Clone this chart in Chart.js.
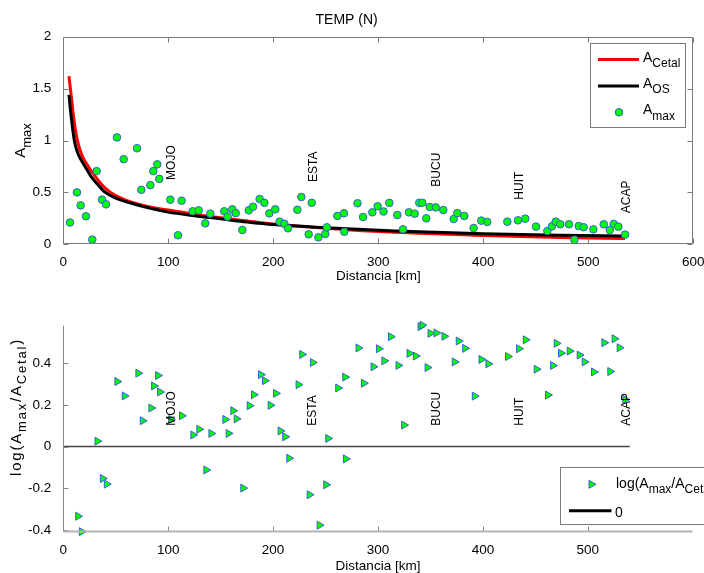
<!DOCTYPE html>
<html>
<head>
<meta charset="utf-8">
<script src="https://cdn.jsdelivr.net/npm/chart.js@4.4.1/dist/chart.umd.min.js"></script>
<style>
  body { margin: 0; background: #fff; width: 704px; height: 573px; overflow: hidden; position: relative; }
  canvas { position: absolute; left: 0; }
  #arriba { top: 0; }
  #abajo { top: 290px; }
</style>
</head>
<body>
<canvas id="arriba" width="704" height="290"></canvas>
<canvas id="abajo" width="704" height="283"></canvas>
<script>
const FONT = "'Liberation Sans', Arial, Helvetica, sans-serif";

// estaciones
const stations = ["MOJO", "ESTA", "BUCU", "HUIT", "ACAP"];
const stationKm = [103, 238, 356, 435, 537];
const stationAmax = [0.62, 0.6, 0.555, 0.43, 0.3];
const stationLog = [0.1, 0.1, 0.1, 0.1, 0.1];

// ticks
const xTicksTop = [0, 100, 200, 300, 400, 500, 600];
const yTicksTop = [0, 0.5, 1, 1.5, 2];
const xTicksBot = [0, 100, 200, 300, 400, 500];
const yTicksBot = [-0.4, -0.2, 0, 0.2, 0.4];

// curvas
const distCetal = [5.4, 6.5, 8, 9.5, 11.1, 13, 15.5, 19, 23.8, 30, 37, 45, 55, 65, 80, 100, 125, 150, 175, 200, 250, 316, 400, 473, 535];
const aCetal = [1.62, 1.52, 1.39, 1.25, 1.13, 1.02, 0.92, 0.83, 0.75, 0.66, 0.57, 0.5, 0.445, 0.405, 0.365, 0.33, 0.29, 0.255, 0.225, 0.195, 0.155, 0.115, 0.085, 0.065, 0.055];
const distOS = [5.4, 6.3, 7.3, 8.8, 10.5, 13, 16.5, 20.7, 26, 32, 40, 50, 60, 80, 100, 125, 150, 175, 200, 250, 316, 400, 473, 535];
const aOS = [1.44, 1.34, 1.25, 1.12, 1.0, 0.9, 0.82, 0.75, 0.66, 0.585, 0.5, 0.445, 0.41, 0.355, 0.31, 0.275, 0.245, 0.215, 0.19, 0.16, 0.128, 0.102, 0.088, 0.08];

// A max observada
const distAmax = [6.4, 13, 16.5, 21.6, 27.6, 31.8, 36.9, 40.7, 51.1, 57.5, 70.2, 74.3, 82.9, 85.7, 89.5, 91.4, 101.9, 109.2, 112.7, 123.2,
  128.9, 135.2, 140, 153.3, 156.5, 161, 164.2, 170.5, 176.6, 180.7, 187, 191.5, 196.2, 201.9, 206, 210.5, 214, 222.9, 226.7, 233.7,
  236.6, 242.9, 249.5, 251.1, 261, 267.3, 267.6, 280.2, 285.5, 294.3, 299.4, 305, 310.5, 318.1, 323.5, 329.2, 334.7, 339, 341.9, 345.7,
  349, 354.7, 361.9, 371.8, 375.3, 381.9, 390.8, 398.1, 403.8, 422.9, 433, 440, 450.2, 461, 465.4, 469, 473.3, 481.6, 486.7, 490.9,
  495.6, 504.8, 514.7, 520.4, 524.2, 528.6, 535];
const amax = [0.21, 0.5, 0.375, 0.27, 0.045, 0.705, 0.43, 0.385, 1.03, 0.82, 0.925, 0.525, 0.57, 0.705, 0.77, 0.63, 0.43, 0.087, 0.42, 0.318,
  0.327, 0.202, 0.295, 0.318, 0.266, 0.337, 0.3, 0.138, 0.327, 0.362, 0.436, 0.4, 0.298, 0.337, 0.218, 0.198, 0.154, 0.333, 0.456, 0.096,
  0.4, 0.067, 0.099, 0.164, 0.273, 0.299, 0.121, 0.395, 0.263, 0.308, 0.367, 0.316, 0.399, 0.282, 0.144, 0.308, 0.295, 0.4, 0.4, 0.25,
  0.359, 0.356, 0.33, 0.244, 0.3, 0.273, 0.157, 0.228, 0.215, 0.218, 0.231, 0.247, 0.17, 0.128, 0.173, 0.218, 0.193, 0.193, 0.044, 0.176,
  0.164, 0.144, 0.193, 0.138, 0.196, 0.17, 0.093];

// log(Amax/ACetal)
const distLog = [14, 17.5, 32.4, 37.5, 41.3, 51.4, 58.4, 71.4, 75.6, 83.8, 86.4, 90.2, 92.1, 102.6, 113, 123.8, 129.5, 136.2, 141, 154.3,
  157.5, 161.9, 165.1, 171.4, 177.5, 181.6, 188.3, 192.1, 197.5, 202.6, 207, 211.4, 215.2, 224.1, 227.6, 234.7, 237.8, 244.2, 250.5, 252.4,
  261.9, 268.6, 269.2, 281.3, 286.4, 295.6, 300.7, 305.9, 312.1, 319.4, 324.8, 329.9, 335.9, 340.4, 342.3, 347.1, 349.9, 355.6, 363.2, 373,
  376.8, 382.9, 392.1, 398.5, 405.1, 423.8, 434.3, 440.7, 451.1, 461.9, 466.7, 470.2, 474.3, 482.6, 492.1, 496.9, 505.7, 515.6, 521.3, 525.4,
  530.2, 535.6];
const logRatio = [-0.334, -0.408, 0.026, -0.153, -0.18, 0.312, 0.243, 0.352, 0.124, 0.185, 0.291, 0.341, 0.262, 0.13, 0.148, 0.056, 0.083, -0.112, 0.063, 0.13,
  0.063, 0.172, 0.133, -0.199, 0.196, 0.249, 0.345, 0.316, 0.198, 0.255, 0.075, 0.047, -0.056, 0.297, 0.442, -0.231, 0.403, -0.377, -0.183, 0.039,
  0.281, 0.333, -0.059, 0.473, 0.304, 0.383, 0.469, 0.411, 0.527, 0.389, 0.103, 0.447, 0.434, 0.575, 0.582, 0.379, 0.543, 0.545, 0.529, 0.406,
  0.506, 0.471, 0.242, 0.418, 0.397, 0.432, 0.469, 0.512, 0.371, 0.247, 0.389, 0.495, 0.448, 0.458, 0.439, 0.406, 0.358, 0.498, 0.36, 0.517,
  0.474, 0.226];

const zeroX = [0, 540];
const zeroY = [0, 0];

Chart.defaults.font.family = FONT;
Chart.defaults.color = "#000";
Chart.defaults.animation = false;

function pares(xs, ys) {
  return xs.map((x, i) => ({ x: x, y: ys[i] }));
}

// texto con subindices: partes = [[texto, esSub], ...]
function anchoRich(ctx, partes, main, sub) {
  let w = 0;
  partes.forEach(([t, s]) => {
    ctx.font = (s ? sub : main) + "px " + FONT;
    w += ctx.measureText(t).width;
  });
  return w;
}

function drawRich(ctx, partes, x, y, main, sub, baja) {
  let cx = x;
  partes.forEach(([t, s]) => {
    ctx.font = (s ? sub : main) + "px " + FONT;
    ctx.fillText(t, cx, y + (s ? baja : 0));
    cx += ctx.measureText(t).width;
  });
}

function marco(chart, caja, colorL, colorB) {
  const { ctx, chartArea: a, scales } = chart;
  const L = Math.round(a.left) + 0.5, R = Math.round(a.right) - 0.5;
  const T = Math.round(a.top) + 0.5, B = Math.round(a.bottom) - 0.5;
  ctx.save();
  ctx.lineWidth = 1;
  ctx.strokeStyle = colorL;
  ctx.beginPath();
  if (caja) {
    ctx.rect(L, T, R - L, B - T);
  } else {
    ctx.moveTo(L, T); ctx.lineTo(L, B);
  }
  scales.y.ticks.forEach(t => {
    const py = Math.round(scales.y.getPixelForValue(t.value)) + 0.5;
    ctx.moveTo(L, py); ctx.lineTo(L + 5, py);
    if (caja) { ctx.moveTo(R, py); ctx.lineTo(R - 5, py); }
  });
  scales.x.ticks.forEach(t => {
    const px = Math.round(scales.x.getPixelForValue(t.value)) + 0.5;
    ctx.moveTo(px, B); ctx.lineTo(px, B - 5);
    if (caja) { ctx.moveTo(px, T); ctx.lineTo(px, T + 5); }
  });
  ctx.stroke();
  if (!caja) {
    ctx.strokeStyle = colorB;
    ctx.lineWidth = 2;
    ctx.beginPath();
    ctx.moveTo(L, B); ctx.lineTo(R, B);
    ctx.stroke();
  }
  ctx.restore();
}

function etiquetas(chart, ys) {
  const { ctx, scales } = chart;
  ctx.save();
  ctx.fillStyle = "#000";
  ctx.font = "12px " + FONT;
  ctx.textAlign = "left";
  ctx.textBaseline = "middle";
  stations.forEach((n, i) => {
    ctx.save();
    ctx.translate(scales.x.getPixelForValue(stationKm[i]), scales.y.getPixelForValue(ys[i]));
    ctx.rotate(-Math.PI / 2);
    ctx.fillText(n, 0, 0);
    ctx.restore();
  });
  ctx.restore();
}

function tituloY(ctx, partes, cx, cy, main, sub, baja, esp) {
  ctx.save();
  ctx.fillStyle = "#000";
  ctx.textBaseline = "alphabetic";
  ctx.letterSpacing = esp + "px";
  const w = anchoRich(ctx, partes, main, sub);
  ctx.translate(cx, cy);
  ctx.rotate(-Math.PI / 2);
  drawRich(ctx, partes, -w / 2, 0, main, sub, baja);
  ctx.restore();
}

const pluginArriba = {
  id: "arriba",
  afterDraw(chart) {
    const ctx = chart.ctx;
    marco(chart, true, "#7a7a7a");
    etiquetas(chart, stationAmax);
    tituloY(ctx, [["A", false], ["max", true]], 25, 140.5, 15, 13, 6, 0);

    // leyenda
    ctx.save();
    ctx.fillStyle = "#fff";
    ctx.strokeStyle = "#7a7a7a";
    ctx.lineWidth = 1;
    ctx.fillRect(590.5, 43.5, 95, 84);
    ctx.strokeRect(590.5, 43.5, 95, 84);
    ctx.lineWidth = 3;
    ctx.strokeStyle = "#ff0000";
    ctx.beginPath(); ctx.moveTo(598, 59.5); ctx.lineTo(639, 59.5); ctx.stroke();
    ctx.strokeStyle = "#000";
    ctx.beginPath(); ctx.moveTo(598, 86); ctx.lineTo(639, 86); ctx.stroke();
    ctx.fillStyle = "#00ff00";
    ctx.strokeStyle = "#3b5bd6";
    ctx.lineWidth = 1;
    ctx.beginPath(); ctx.arc(619, 112.3, 3.8, 0, Math.PI * 2); ctx.fill(); ctx.stroke();
    ctx.fillStyle = "#000";
    drawRich(ctx, [["A", false], ["Cetal", true]], 643, 61.7, 14, 12, 5);
    drawRich(ctx, [["A", false], ["OS", true]], 643, 87.5, 14, 12, 5.5);
    drawRich(ctx, [["A", false], ["max", true]], 643, 113.5, 14, 12, 6);
    ctx.restore();
  }
};

const pluginAbajo = {
  id: "abajo",
  afterDraw(chart) {
    const ctx = chart.ctx;
    marco(chart, false, "#888", "#b4b4b4");
    etiquetas(chart, stationLog);
    tituloY(ctx, [["log(A", false], ["max", true], ["/A", false], ["Cetal", true], [")", false]], 21, 117, 15, 13, 4.5, 1.8);

    // leyenda
    ctx.save();
    ctx.fillStyle = "#fff";
    ctx.strokeStyle = "#7a7a7a";
    ctx.lineWidth = 1;
    ctx.fillRect(560.5, 177.5, 200, 57);
    ctx.strokeRect(560.5, 177.5, 200, 57);
    // triangulo
    ctx.fillStyle = "#00ff00";
    ctx.strokeStyle = "#3a5fcd";
    ctx.beginPath();
    ctx.moveTo(596, 194.3); ctx.lineTo(589, 190.3); ctx.lineTo(589, 198.3); ctx.closePath();
    ctx.fill(); ctx.stroke();
    ctx.strokeStyle = "#000";
    ctx.lineWidth = 3;
    ctx.beginPath(); ctx.moveTo(569, 220.7); ctx.lineTo(611.5, 220.7); ctx.stroke();
    ctx.fillStyle = "#000";
    drawRich(ctx, [["log(A", false], ["max", true], ["/A", false], ["Cetal", true], [")", false]], 616, 198, 14, 12, 5);
    drawRich(ctx, [["0", false]], 615, 226.5, 14, 12, 0);
    ctx.restore();
  }
};

function ejeX(ticks, alto, padTitulo) {
  return {
    type: "linear",
    min: 0,
    max: 600,
    afterBuildTicks: s => { s.ticks = ticks.map(v => ({ value: v })); },
    afterFit: s => { s.height = alto; s.paddingLeft = 0; s.paddingRight = 0; },
    grid: { display: false },
    border: { display: false },
    ticks: { padding: 1.5, font: { size: 13.5 }, maxRotation: 0, autoSkip: false },
    title: { display: true, text: "Distancia [km]", font: { size: 13.5, lineHeight: 1 }, padding: { top: 0, bottom: padTitulo } }
  };
}

function ejeY(min, max, ticks) {
  return {
    type: "linear",
    min: min,
    max: max,
    afterBuildTicks: s => { s.ticks = ticks.map(v => ({ value: v })); },
    afterFit: s => { s.width = 63.3; s.paddingTop = 0; s.paddingBottom = 0; },
    grid: { display: false },
    border: { display: false },
    ticks: { padding: 4, font: { size: 13.5 }, callback: v => String(v) }
  };
}

new Chart(document.getElementById("arriba"), {
  type: "scatter",
  data: {
    datasets: [
      {
        label: "Amax",
        data: pares(distAmax, amax),
        pointRadius: 3.8,
        pointBackgroundColor: "#00ff00",
        pointBorderColor: "#3b5bd6",
        pointBorderWidth: 1,
        clip: false
      },
      {
        label: "AOS",
        data: pares(distOS, aOS),
        showLine: true,
        borderColor: "#000",
        borderWidth: 3,
        pointRadius: 0,
        cubicInterpolationMode: "monotone"
      },
      {
        label: "ACetal",
        data: pares(distCetal, aCetal),
        showLine: true,
        borderColor: "#ff0000",
        borderWidth: 3,
        pointRadius: 0,
        cubicInterpolationMode: "monotone"
      }
    ]
  },
  options: {
    responsive: false,
    devicePixelRatio: 1,
    layout: { padding: { top: 0, left: 0, right: 10.7, bottom: 0 } },
    plugins: {
      legend: { display: false },
      tooltip: { enabled: false },
      title: {
        display: true,
        text: "TEMP (N)",
        color: "#000",
        font: { size: 14, weight: "normal", lineHeight: 1.2 },
        padding: { top: 11.6, bottom: 8.3 }
      }
    },
    scales: {
      x: ejeX(xTicksTop, 45.7, 6.5),
      y: ejeY(0, 2, yTicksTop)
    }
  },
  plugins: [pluginArriba]
});

new Chart(document.getElementById("abajo"), {
  type: "scatter",
  data: {
    datasets: [
      {
        label: "log",
        data: pares(distLog, logRatio),
        pointStyle: "triangle",
        rotation: 90,
        pointRadius: 4.6,
        pointBackgroundColor: "#00ff00",
        pointBorderColor: "#3a5fcd",
        pointBorderWidth: 1,
        clip: false
      },
      {
        label: "0",
        data: pares(zeroX, zeroY),
        showLine: true,
        borderColor: "#444",
        borderWidth: 1.5,
        pointRadius: 0
      }
    ]
  },
  options: {
    responsive: false,
    devicePixelRatio: 1,
    layout: { padding: { top: 35, left: 0, right: 11.3, bottom: 0 } },
    plugins: {
      legend: { display: false },
      tooltip: { enabled: false }
    },
    scales: {
      x: ejeX(xTicksBot, 40.7, 0),
      y: ejeY(-0.411, 0.583, yTicksBot)
    }
  },
  plugins: [pluginAbajo]
});
</script>
</body>
</html>
